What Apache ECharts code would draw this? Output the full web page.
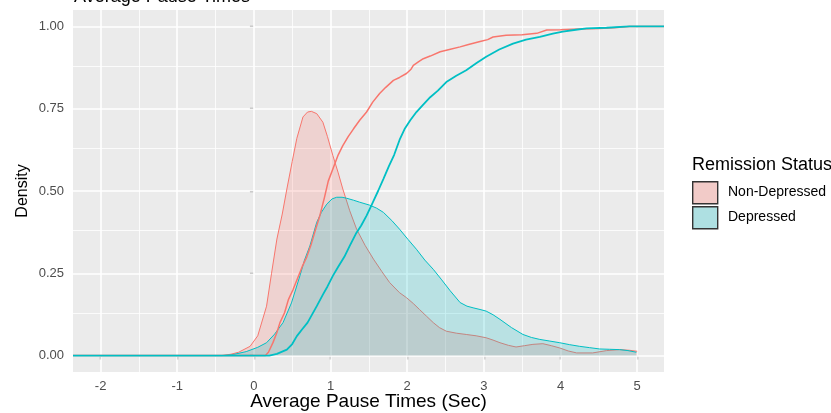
<!DOCTYPE html>
<html>
<head>
<meta charset="utf-8">
<script src="https://cdn.jsdelivr.net/npm/echarts@6/dist/echarts.min.js"></script>
<style>
html,body{margin:0;padding:0;background:#fff;}
#chart{width:831px;height:413px;}
</style>
</head>
<body>
<div id="chart"></div>
<script>
// ---- data ----
const xTicks = [-2, -1, 0, 1, 2, 3, 4, 5];
const xMinor = [-1.5, -0.5, 0.5, 1.5, 2.5, 3.5, 4.5];
const yTicks = [0, 0.25, 0.5, 0.75, 1];
const yMinor = [0.125, 0.375, 0.625, 0.875];
const groups = ['Non-Depressed', 'Depressed'];

// density, Non-Depressed
const ndDensX = [-2, -0.42, -0.3, -0.2, -0.05, 0.05, 0.165, 0.23, 0.30, 0.37, 0.43, 0.50, 0.56, 0.64, 0.70, 0.75, 0.82, 0.90, 0.96, 1.03, 1.10, 1.16, 1.25, 1.34, 1.45, 1.56, 1.67, 1.77, 1.90, 1.99, 2.08, 2.16, 2.25, 2.34, 2.42, 2.51, 2.64, 2.77, 2.90, 3.03, 3.12, 3.21, 3.32, 3.42, 3.53, 3.64, 3.77, 3.88, 3.99, 4.10, 4.21, 4.42, 4.60, 4.77, 4.90, 5.0];
const ndDensY = [0, 0, 0.004, 0.01, 0.028, 0.06, 0.15, 0.25, 0.354, 0.43, 0.506, 0.59, 0.66, 0.725, 0.74, 0.742, 0.735, 0.709, 0.665, 0.608, 0.555, 0.506, 0.44, 0.384, 0.335, 0.293, 0.255, 0.222, 0.191, 0.176, 0.158, 0.14, 0.12, 0.10, 0.085, 0.074, 0.068, 0.064, 0.06, 0.054, 0.047, 0.039, 0.031, 0.026, 0.030, 0.034, 0.036, 0.030, 0.023, 0.014, 0.008, 0.008, 0.015, 0.018, 0.016, 0.013];

// density, Depressed
const dDensX = [-2, -0.40, -0.27, -0.1, 0.05, 0.165, 0.27, 0.38, 0.49, 0.60, 0.66, 0.73, 0.82, 0.88, 0.95, 1.02, 1.08, 1.15, 1.21, 1.30, 1.38, 1.51, 1.60, 1.69, 1.80, 1.90, 2.01, 2.12, 2.23, 2.34, 2.45, 2.56, 2.69, 2.78, 2.86, 2.95, 3.03, 3.12, 3.21, 3.36, 3.51, 3.62, 3.73, 3.86, 3.99, 4.12, 4.25, 4.38, 4.51, 4.64, 4.77, 4.88, 4.99];
const dDensY = [0, 0, 0.003, 0.012, 0.025, 0.039, 0.065, 0.10, 0.16, 0.242, 0.29, 0.333, 0.405, 0.435, 0.46, 0.476, 0.481, 0.481, 0.478, 0.472, 0.466, 0.457, 0.448, 0.435, 0.41, 0.384, 0.353, 0.323, 0.29, 0.262, 0.23, 0.197, 0.161, 0.15, 0.145, 0.14, 0.135, 0.124, 0.11, 0.085, 0.064, 0.055, 0.049, 0.044, 0.039, 0.033, 0.028, 0.024, 0.020, 0.019, 0.018, 0.015, 0.010];

// empirical CDF, Non-Depressed
const ndEcdfX = [-2.36, 0.15, 0.19, 0.25, 0.30, 0.34, 0.40, 0.45, 0.51, 0.57, 0.63, 0.69, 0.75, 0.80, 0.86, 0.92, 0.97, 1.03, 1.10, 1.16, 1.23, 1.30, 1.38, 1.47, 1.55, 1.64, 1.72, 1.82, 1.90, 1.99, 2.05, 2.08, 2.15, 2.21, 2.30, 2.43, 2.55, 2.69, 2.80, 2.95, 3.05, 3.12, 3.29, 3.50, 3.69, 3.82, 4.00, 4.25, 4.50, 4.69, 4.90, 5.35];
const ndEcdfY = [0, 0, 0.01, 0.04, 0.07, 0.10, 0.13, 0.17, 0.20, 0.235, 0.27, 0.30, 0.34, 0.38, 0.425, 0.48, 0.53, 0.567, 0.61, 0.638, 0.665, 0.689, 0.715, 0.74, 0.77, 0.796, 0.815, 0.836, 0.845, 0.857, 0.87, 0.882, 0.893, 0.902, 0.91, 0.923, 0.93, 0.938, 0.945, 0.954, 0.96, 0.968, 0.973, 0.975, 0.979, 0.989, 0.99, 0.992, 0.994, 0.996, 1.0, 1.0];

// empirical CDF, Depressed
const dEcdfX = [-2.36, 0.20, 0.30, 0.43, 0.50, 0.56, 0.63, 0.70, 0.76, 0.82, 0.90, 0.96, 1.03, 1.10, 1.18, 1.25, 1.33, 1.40, 1.47, 1.55, 1.62, 1.69, 1.76, 1.83, 1.90, 1.97, 2.04, 2.12, 2.20, 2.30, 2.40, 2.51, 2.64, 2.77, 2.90, 3.03, 3.20, 3.38, 3.55, 3.73, 3.90, 4.03, 4.20, 4.34, 4.60, 4.90, 5.35];
const dEcdfY = [0, 0, 0.005, 0.018, 0.035, 0.059, 0.08, 0.10, 0.125, 0.15, 0.185, 0.21, 0.242, 0.27, 0.30, 0.333, 0.37, 0.395, 0.425, 0.465, 0.50, 0.537, 0.575, 0.61, 0.655, 0.69, 0.715, 0.74, 0.76, 0.785, 0.805, 0.831, 0.85, 0.867, 0.888, 0.908, 0.93, 0.948, 0.96, 0.968, 0.978, 0.984, 0.99, 0.994, 0.996, 1.0, 1.0];

// ---- chart ----
const RED = '#F8766D', CYAN = '#00BFC4';
const FONT = '"Liberation Sans", Arial, sans-serif';
const pairs = (xs, ys) => xs.map((x, i) => [x, ys[i]]);

const gridLines = [
  ...xMinor.map(v => ({ xAxis: v, lineStyle: { width: 0.8 } })),
  ...yMinor.map(v => ({ yAxis: v, lineStyle: { width: 0.8 } })),
  ...xTicks.map(v => ({ xAxis: v, lineStyle: { width: 1.6 } })),
  ...yTicks.map(v => ({ yAxis: v, lineStyle: { width: 1.6 } }))
];

const chart = echarts.init(document.getElementById('chart'), null, { renderer: 'canvas' });
chart.setOption({
  animation: false,
  backgroundColor: '#ffffff',
  textStyle: { fontFamily: FONT },
  title: {
    text: 'Average Pause Times',
    left: 69, top: -17,
    textStyle: { fontFamily: FONT, fontSize: 18, fontWeight: 'normal', color: '#000' }
  },
  grid: {
    left: 73, right: 167, top: 10, bottom: 41,
    outerBoundsMode: 'none', containLabel: false,
    show: true, backgroundColor: '#EBEBEB', borderWidth: 0
  },
  xAxis: {
    type: 'value', min: -2.36, max: 5.35,
    name: 'Average Pause Times (Sec)', nameLocation: 'middle', nameGap: 30, nameMoveOverlap: false,
    nameTextStyle: { fontFamily: FONT, fontSize: 19, color: '#000', verticalAlign: 'middle' },
    axisLine: { show: false },
    axisTick: { show: true, length: 4, customValues: xTicks, lineStyle: { color: '#333', width: 1.2 } },
    axisLabel: { customValues: xTicks, margin: 8, fontSize: 13, color: '#4D4D4D', fontFamily: FONT },
    splitLine: { show: false }
  },
  yAxis: {
    type: 'value', min: -0.05, max: 1.05,
    name: 'Density', nameLocation: 'middle', nameGap: 50, nameRotate: 90, nameMoveOverlap: false,
    nameTextStyle: { fontFamily: FONT, fontSize: 16, color: '#000', verticalAlign: 'middle' },
    axisLine: { show: false },
    axisTick: { show: true, length: 4, customValues: yTicks, lineStyle: { color: '#333', width: 1.2 } },
    axisLabel: { customValues: yTicks, margin: 9, fontSize: 13, color: '#4D4D4D', fontFamily: FONT,
                 formatter: v => v.toFixed(2) },
    splitLine: { show: false }
  },
  series: [
    {
      type: 'line', data: [], silent: true, z: 1,
      markLine: {
        silent: true, symbol: 'none', z: 1, animation: false,
        label: { show: false },
        lineStyle: { color: '#ffffff', type: 'solid' },
        emphasis: { disabled: true },
        data: gridLines
      }
    },
    {
      name: groups[0] + ' density', type: 'line', z: 2, showSymbol: false, smooth: false,
      data: pairs(ndDensX, ndDensY),
      lineStyle: { color: RED, width: 1 },
      areaStyle: { color: 'rgba(248,118,109,0.3)', origin: 0 }
    },
    {
      name: groups[1] + ' density', type: 'line', z: 3, showSymbol: false, smooth: false,
      data: pairs(dDensX, dDensY),
      lineStyle: { color: CYAN, width: 1 },
      areaStyle: { color: 'rgba(0,191,196,0.3)', origin: 0 }
    },
    {
      name: groups[0] + ' ecdf', type: 'line', z: 4, showSymbol: false,
      data: pairs(ndEcdfX, ndEcdfY),
      lineStyle: { color: RED, width: 1.5 }
    },
    {
      name: groups[1] + ' ecdf', type: 'line', z: 5, showSymbol: false,
      data: pairs(dEcdfX, dEcdfY),
      lineStyle: { color: CYAN, width: 1.8 }
    }
  ],
  graphic: [
    { type: 'text', left: 692, top: 156, z: 10,
      style: { text: 'Remission Status', font: '18px ' + FONT, fill: '#000' } },
    { type: 'rect', left: 692, top: 181, z: 10,
      shape: { width: 25, height: 22 },
      style: { fill: '#F2CBC8', stroke: '#333', lineWidth: 1.4 } },
    { type: 'rect', left: 692, top: 206, z: 10,
      shape: { width: 25, height: 22 },
      style: { fill: '#AEE0E2', stroke: '#333', lineWidth: 1.4 } },
    { type: 'text', left: 728, top: 185, z: 10,
      style: { text: groups[0], font: '14px ' + FONT, fill: '#000' } },
    { type: 'text', left: 728, top: 210, z: 10,
      style: { text: groups[1], font: '14px ' + FONT, fill: '#000' } }
  ]
});
</script>
</body>
</html>
